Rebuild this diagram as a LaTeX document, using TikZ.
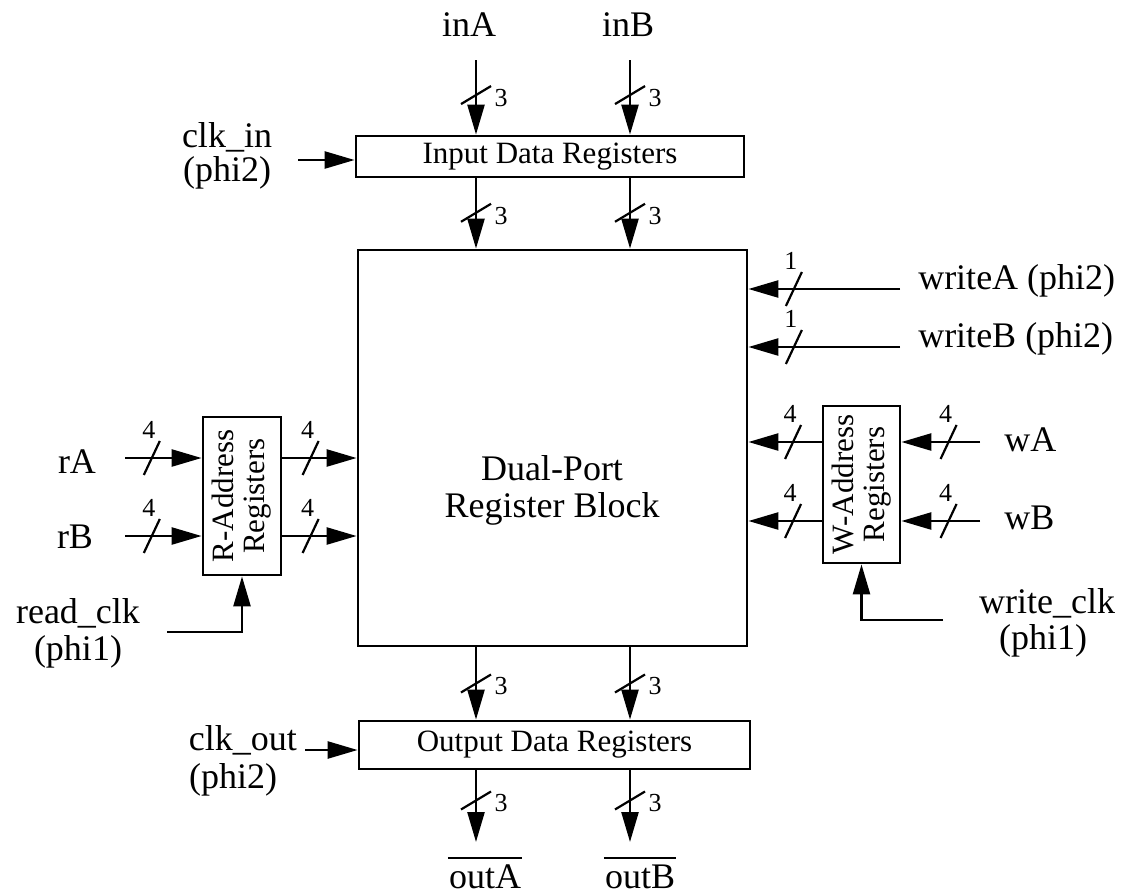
\documentclass[tikz,border=0pt]{standalone}
\usepackage{fontspec}
\setmainfont{Liberation Serif}
\usetikzlibrary{arrows.meta,calc}
\newcommand{\vbus}[2]{%
  \draw[slash] ([shift={(-15,9)}]#1) -- ([shift={(15,-9)}]#1);
  \node[num] at ([shift={(25,3)}]#1) {#2};}
\newcommand{\hbus}[2]{%
  \draw[slash] ([shift={(-8,17)}]#1) -- ([shift={(8,-17)}]#1);
  \node[num] at ([shift={(-3,-28)}]#1) {#2};}
\begin{document}
\begin{tikzpicture}[x=1pt,y=-1pt,
  line width=2.5pt,
  arr/.style={-{Triangle[length=30pt,width=17pt]}, line width=2.5pt},
  slash/.style={line width=2.2pt},
  regbox/.style={draw, line width=2.8pt, inner sep=0pt, font=\fontsize{31}{31}\selectfont},
  regtxt/.style={inner sep=0pt, align=center, font=\fontsize{31}{31}\selectfont},
  lab/.style={inner sep=0pt, font=\fontsize{36}{37}\selectfont},
  num/.style={inner sep=0pt, font=\fontsize{26}{26}\selectfont},
]
\fill[white] (0,0) rectangle (1130,895);
\useasboundingbox (0,0) rectangle (1130,895);

% boxes
\node[regbox, minimum width=388pt, minimum height=41pt] (inreg) at (550,156.5) {Input Data Registers};
\node[regbox, minimum width=389pt, minimum height=396pt] (main) at (552.5,448) {};
\node[lab, align=center] (maintxt) at (552,490) {Dual-Port\\Register Block};
\node[regbox, minimum width=391pt, minimum height=48pt] (outreg) at (554.5,745) {Output Data Registers};
\node[regbox, minimum width=78pt, minimum height=158pt] (rreg) at (242,496) {};
\node[regtxt, rotate=90] (rregtxt) at (rreg.center) {R-Address\\Registers};
\node[regbox, minimum width=77pt, minimum height=157pt] (wreg) at (861.5,484.5) {};
\node[regtxt, rotate=90] (wregtxt) at (wreg.center) {W-Address\\Registers};

% labels
\node[lab] (inA) at (469,25) {inA};
\node[lab] (inB) at (628,25) {inB};
\node[lab] (clkin) at (227,137) {clk\_in};
\node[lab] (clkinp) at (227,173) {(phi2)};
\node[lab, anchor=east] (clkout) at (298,740) {clk\_out};
\node[lab] (clkoutp) at (233,780) {(phi2)};
\node[lab, anchor=base west] (writeA) at (917,289) {writeA (phi2)};
\node[lab, anchor=base west] (writeB) at (917,347) {writeB (phi2)};
\node[lab, anchor=base west] (wA) at (1003,451) {wA};
\node[lab, anchor=base west] (wB) at (1003,529) {wB};
\node[lab] (wclk) at (1047,603) {write\_clk};
\node[lab] (wclkp) at (1043,641) {(phi1)};
\node[lab] (rA) at (77,462) {rA};
\node[lab] (rB) at (75,537) {rB};
\node[lab] (rclk) at (78,613) {read\_clk};
\node[lab] (rclkp) at (78,652) {(phi1)};
\node[lab] (outA) at (485,877) {outA};
\node[lab] (outB) at (640,877) {outB};
\draw[line width=2pt] ([yshift=6pt]outA.north west) -- ([yshift=6pt]outA.north east);
\draw[line width=2pt] ([yshift=6pt]outB.north west) -- ([yshift=6pt]outB.north east);

% free ends
\coordinate (inAs) at (476,60);
\coordinate (inBs) at (630,60);
\coordinate (outAe) at (476,842);
\coordinate (outBe) at (630,842);
\coordinate (clkins) at (298,160);
\coordinate (clkouts) at (305,750);
\coordinate (rAs) at (125,458);
\coordinate (rBs) at (125,536);
\coordinate (wAs) at (980,442);
\coordinate (wBs) at (980,521);
\coordinate (wrAs) at (900,289);
\coordinate (wrBs) at (900,347);
\coordinate (rclks) at (167,632);
\coordinate (wclks) at (943,620);

% vertical buses
\draw[arr] (inAs) -- coordinate[pos=0.47] (b1) (inAs |- inreg.north);
\draw[arr] (inBs) -- coordinate[pos=0.47] (b2) (inBs |- inreg.north);
\draw[arr] (inreg.south -| inAs) -- coordinate[pos=0.49] (b3) (main.north -| inAs);
\draw[arr] (inreg.south -| inBs) -- coordinate[pos=0.49] (b4) (main.north -| inBs);
\draw[arr] (main.south -| inAs) -- coordinate[pos=0.5] (b5) (outreg.north -| inAs);
\draw[arr] (main.south -| inBs) -- coordinate[pos=0.5] (b6) (outreg.north -| inBs);
\draw[arr] (outreg.south -| inAs) -- coordinate[pos=0.42] (b7) (outAe);
\draw[arr] (outreg.south -| inBs) -- coordinate[pos=0.42] (b8) (outBe);
\vbus{b1}{3}\vbus{b2}{3}\vbus{b3}{3}\vbus{b4}{3}
\vbus{b5}{3}\vbus{b6}{3}\vbus{b7}{3}\vbus{b8}{3}

% clocks to data registers
\draw[arr] (clkins) -- (clkins -| inreg.west);
\draw[arr] (clkouts) -- (clkouts -| outreg.west);

% read address
\draw[arr] (rAs) -- coordinate[pos=0.35] (h1) (rAs -| rreg.west);
\draw[arr] (rBs) -- coordinate[pos=0.35] (h2) (rBs -| rreg.west);
\draw[arr] (rAs -| rreg.east) -- coordinate[pos=0.38] (h3) (rAs -| main.west);
\draw[arr] (rBs -| rreg.east) -- coordinate[pos=0.38] (h4) (rBs -| main.west);
\hbus{h1}{4}\hbus{h2}{4}\hbus{h3}{4}\hbus{h4}{4}
\draw[arr] (rclks) -| (rreg.south);

% write address
\draw[arr] (wAs) -- coordinate[pos=0.4] (h5) (wAs -| wreg.east);
\draw[arr] (wBs) -- coordinate[pos=0.4] (h6) (wBs -| wreg.east);
\draw[arr] (wAs -| wreg.west) -- coordinate[pos=0.39] (h7) (wAs -| main.east);
\draw[arr] (wBs -| wreg.west) -- coordinate[pos=0.39] (h8) (wBs -| main.east);
\hbus{h5}{4}\hbus{h6}{4}\hbus{h7}{4}\hbus{h8}{4}
\draw[arr] (wclks) -| (wreg.south);

% write enables
\draw[arr] (wrAs) -- coordinate[pos=0.70] (h9) (wrAs -| main.east);
\draw[arr] (wrBs) -- coordinate[pos=0.70] (h10) (wrBs -| main.east);
\hbus{h9}{1}\hbus{h10}{1}
\end{tikzpicture}
\end{document}
